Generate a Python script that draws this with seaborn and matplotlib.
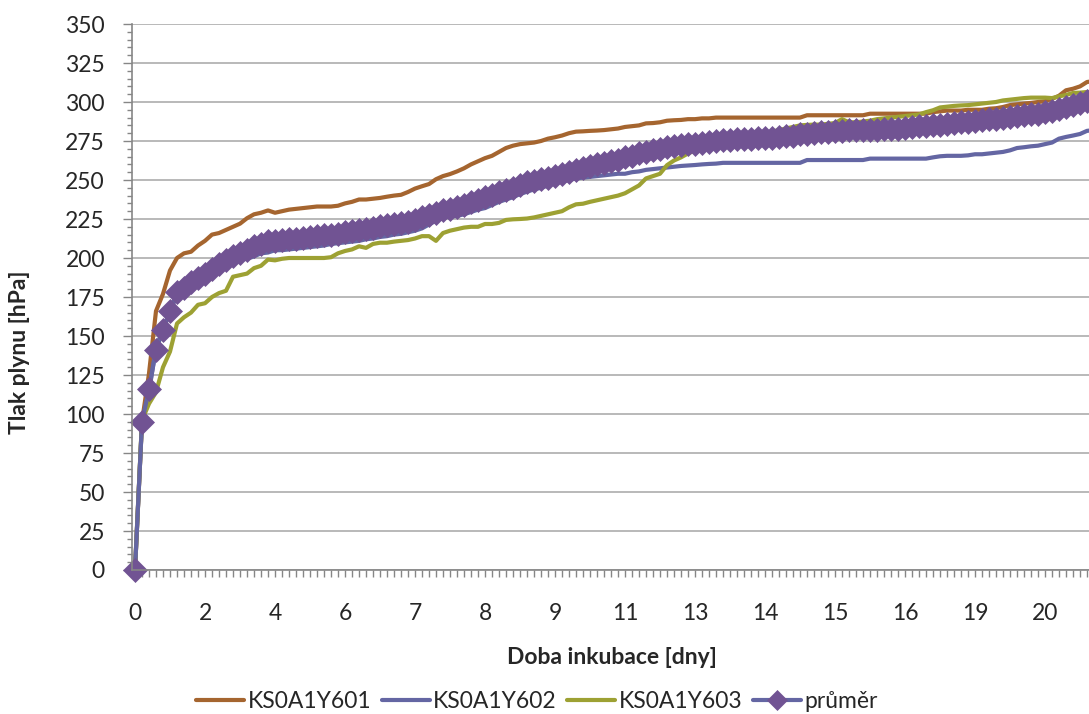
import numpy as np
import pandas as pd
import matplotlib
matplotlib.use("Agg")
import matplotlib.pyplot as plt
from matplotlib.ticker import MultipleLocator, FixedLocator
import seaborn as sns

# Gas pressure readings [hPa], one value per measurement (category axis)
ks601 = [0, 95, 126, 166, 177, 192, 200, 203, 204, 208, 211, 215, 216, 218, 220, 222, 225.5, 228, 229, 230.5,
         229, 230, 231, 231.5, 232, 232.5, 233, 233, 233, 233.5, 235, 236, 237.5, 237.5, 238, 238.5, 239.3, 240, 240.5, 242.3,
         244.5, 246, 247.4, 250.5, 252.5, 253.8, 255.5, 257.5, 260, 262, 264, 265.5, 268, 270.5, 272, 273, 273.5, 274, 275, 276.5,
         277.4, 278.5, 280, 281, 281.2, 281.5, 281.7, 282, 282.5, 283, 284, 284.5, 285, 286.3, 286.5, 287, 288, 288.3, 288.5, 289,
         289, 289.5, 289.5, 290, 290, 290, 290, 290, 290, 290, 290, 290, 290, 290, 290, 290,
         291.5, 291.5, 291.5, 291.5, 291.5, 291.5, 291.5, 291.5, 291.5,
         292.5, 292.5, 292.5, 292.5, 292.5, 292.5, 292.5, 292.5, 292.5,
         293.5, 294, 294.5, 294.5, 294.5, 295, 295, 295, 295.7, 296, 296.8, 298, 298.5, 299, 299.4, 300, 300.5, 302, 304, 307.5,
         308.5, 310, 312.8, 313.5]

ks602 = [0, 95, 114, 143, 154, 166, 176, 178, 183, 185, 188, 189, 194, 196, 198, 199, 199.5, 201, 203, 203.5,
         205, 205, 205.5, 206, 206.5, 207, 207.5, 208, 209, 209.5, 210, 210.5, 211, 212, 212.5, 213.5, 214, 215, 215.5, 216.5,
         217.5, 219, 221.5, 224, 226, 226.5, 227, 228, 229.5, 231, 232, 234, 236, 237.5, 239, 241, 242.5, 244, 245, 246.5,
         248, 249, 250, 251, 251.5, 252, 252.5, 253, 253.5, 254, 254, 255, 255.5, 256.5, 257, 257.5, 258, 258.5, 259, 259.3,
         259.6, 260, 260.3, 260.5, 261, 261, 261, 261, 261, 261, 261, 261, 261, 261, 261, 261,
         262.8, 262.8, 262.8, 262.8, 262.8, 262.8, 262.8, 262.8, 262.8,
         263.7, 263.7, 263.7, 263.7, 263.7, 263.7, 263.7, 263.7, 263.7,
         264.5, 265.2, 265.5, 265.5, 265.5, 265.8, 266.5, 266.5, 267, 267.5, 268, 269, 270.5, 271, 271.6, 272, 273, 274, 276.5, 277.6,
         278.5, 279.5, 281.5, 282]

ks603 = [0, 96, 106.6, 114, 130, 140, 158, 162, 165, 170, 171, 175, 177.5, 179, 188, 189, 190, 193.5, 195, 199,
         198.5, 199.5, 200, 200, 200, 200, 200, 200, 200.5, 203, 204.5, 205.5, 207.5, 206.5, 209, 209.8, 209.8, 210.5, 211, 211.5,
         212.5, 214, 214, 211, 216, 217.5, 218.5, 219.5, 220, 220, 221.8, 221.8, 222.5, 224.4, 224.8, 225, 225.3, 226, 227, 228,
         229, 230, 232.5, 234.4, 234.8, 236, 237, 238, 239, 240, 241.5, 244, 246.5, 251, 252.5, 254, 259.5, 262.5, 264.5, 267,
         269, 271, 273, 274, 275, 276, 277, 277.5, 278, 279, 280, 281, 282, 283, 284, 285,
         285.3, 285.5, 285.5, 286, 286.5, 289, 287, 287, 287.5,
         288, 289, 289.5, 290, 290.5, 291, 291.5, 292, 293.5,
         294.7, 296.5, 297, 297.5, 297.8, 298, 298.5, 299, 299.5, 300, 301, 301.5, 302, 302.5, 302.8, 302.8, 302.8, 302.5, 303.6, 304.5,
         305.8, 306, 306.4, 306.4]

prumer = [0, 95, 116, 141, 154, 166, 178, 181, 184.5, 187, 190, 193, 196, 198.5, 201, 203, 205, 207.5, 209, 211,
          211, 211.5, 212, 212.5, 213, 213.5, 214, 214.5, 215, 215.5, 216.5, 217, 218, 218.5, 219.5, 220.5, 221, 222, 222.5, 223.3,
          224.5, 226, 227.5, 229, 230.5, 231.5, 232.5, 234, 236, 237.5, 239, 240.5, 242, 243.5, 245, 247, 248.5, 249.5, 250.5, 251.5,
          252.5, 254, 255, 256.5, 258, 259, 260, 261, 262, 263, 264.5, 265.5, 267, 268, 269, 270, 271, 272, 272.5, 273,
          273, 273.5, 274.5, 275.3, 275.5, 275.8, 276, 276.3, 276.5, 276.7, 277, 277, 277.5, 278, 278.5, 279.3,
          279.7, 280, 280.5, 281, 281.3, 281.6, 281.8, 282, 282,
          282.2, 282.3, 282.5, 282.7, 283, 283.4, 283.8, 284.3, 284.7,
          285, 285.5, 286, 286.5, 287, 287.4, 287.8, 288.3, 288.8, 289.2, 289.7, 290.3, 290.8, 291.4, 292, 292.6, 293.3, 294, 295.5, 296.8,
          298, 299.3, 300.8, 301.5]

# Day labels shown under every tenth measurement
day_labels = ["0", "2", "4", "6", "7", "8", "9", "11", "13", "14", "15", "16", "19", "20"]

series_names = ["KS0A1Y601", "KS0A1Y602", "KS0A1Y603", "průměr"]
colors = {"KS0A1Y601": "#A5652F", "KS0A1Y602": "#6466A3", "KS0A1Y603": "#9DA133"}
avg_line = "#6466A3"
avg_marker = "#715393"

df = pd.DataFrame({
    "mereni": np.arange(len(ks601)),
    "KS0A1Y601": ks601,
    "KS0A1Y602": ks602,
    "KS0A1Y603": ks603,
    "průměr": prumer,
})

sns.set_theme(style="white")
plt.rcParams["font.family"] = ["Lato", "DejaVu Sans"]

W, H = 1089, 714
fig = plt.figure(figsize=(W / 100, H / 100), dpi=100)
ax = fig.add_axes([132 / W, 1 - 570 / H, 1 - 132 / W, (570 - 24) / H])

lw = 3.0
for name in series_names[:3]:
    sns.lineplot(data=df, x="mereni", y=name, ax=ax, color=colors[name], lw=lw,
                 label=name, sort=False)
sns.lineplot(data=df, x="mereni", y="průměr", ax=ax, color=avg_line, lw=lw,
             marker="D", markersize=12.5, markerfacecolor=avg_marker,
             markeredgecolor=avg_marker, markeredgewidth=0.5, label="průměr",
             sort=False, clip_on=False)

ax.set_xlim(-3 / 7, (W - 135) / 7)
ax.set_ylim(0, 350)

# y axis: major every 25, minor every 5
ax.yaxis.set_major_locator(MultipleLocator(25))
ax.yaxis.set_minor_locator(MultipleLocator(5))
ax.yaxis.grid(True, which="major", color="#B3B3B3", lw=1.3)
ax.xaxis.grid(False)

# x axis: a tick per measurement, a label every tenth
ax.set_xticks(np.arange(0, 10 * len(day_labels), 10))
ax.set_xticklabels(day_labels)
ax.xaxis.set_minor_locator(FixedLocator(np.arange(0, len(ks601))))

tick_col = "#868686"
ax.tick_params(axis="x", which="both", direction="out", length=5, width=1,
               color=tick_col, bottom=True)
ax.tick_params(axis="x", which="major", labelsize=16.5, pad=19)
ax.tick_params(axis="y", which="major", direction="out", length=6.5, width=1,
               color=tick_col, left=True, labelsize=16.5, pad=13)
ax.tick_params(axis="y", which="minor", direction="out", length=3.6, width=1,
               color=tick_col, left=True)

for side in ["top", "right"]:
    ax.spines[side].set_visible(False)
for side in ["left", "bottom"]:
    ax.spines[side].set_color(tick_col)
    ax.spines[side].set_linewidth(1.2)

ax.set_xlabel("")
ax.set_ylabel("")
fig.text(612 / W, 1 - 657 / H, "Doba inkubace [dny]", ha="center", va="center",
         fontsize=16.5, fontweight="bold")
fig.text(20 / W, 1 - 352 / H, "Tlak plynu [hPa]", ha="center", va="center",
         rotation=90, fontsize=16.5, fontweight="bold")

handles, labels = ax.get_legend_handles_labels()
ax.get_legend().remove()
fig.legend(handles, labels, loc="center", bbox_to_anchor=(537 / W, 1 - 702 / H),
           ncol=4, frameon=False, fontsize=16.5, handlelength=2.1,
           handletextpad=0.15, columnspacing=0.45, markerscale=0.8)

fig.savefig("out.png", dpi=100)
